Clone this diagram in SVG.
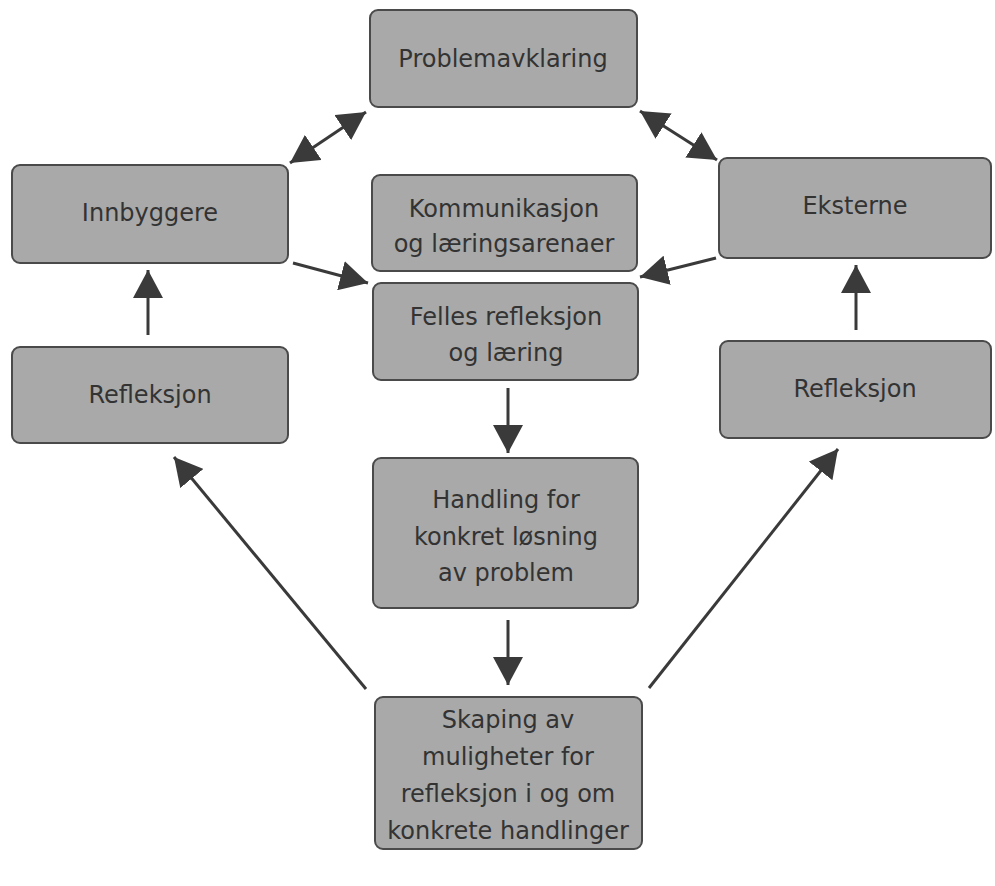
<svg xmlns="http://www.w3.org/2000/svg" width="995" height="886" viewBox="0 0 995 886">
<defs>
<style>
.box{fill:#a9a9a9;stroke:#4a4a4a;stroke-width:2}
.t{font-family:"DejaVu Sans","Liberation Sans",sans-serif;font-size:24px;fill:#333333;text-anchor:middle}
.c{stroke:#3a3a3a;stroke-width:3;fill:none}
</style>
<marker id="ah" viewBox="0 0 10 10" refX="10" refY="5" markerWidth="28" markerHeight="30" markerUnits="userSpaceOnUse" orient="auto-start-reverse" preserveAspectRatio="none">
<path d="M0,0 L10,5 L0,10 z" fill="#3a3a3a"/>
</marker>
</defs>
<rect width="995" height="886" fill="#ffffff"/>
<g id="connectors">
<line class="c" x1="290" y1="163" x2="366" y2="112" marker-start="url(#ah)" marker-end="url(#ah)"/>
<line class="c" x1="640" y1="111" x2="717" y2="160" marker-start="url(#ah)" marker-end="url(#ah)"/>
<line class="c" x1="293" y1="263" x2="368" y2="283" marker-end="url(#ah)"/>
<line class="c" x1="716" y1="258" x2="640" y2="277" marker-end="url(#ah)"/>
<line class="c" x1="508" y1="388" x2="508" y2="453" marker-end="url(#ah)"/>
<line class="c" x1="508" y1="620" x2="508" y2="685" marker-end="url(#ah)"/>
<line class="c" x1="148" y1="335" x2="148" y2="270" marker-end="url(#ah)"/>
<line class="c" x1="856" y1="330" x2="856" y2="265" marker-end="url(#ah)"/>
<line class="c" x1="366" y1="689" x2="174" y2="457" marker-end="url(#ah)"/>
<line class="c" x1="649" y1="688" x2="838" y2="449" marker-end="url(#ah)"/>
</g>
<g id="problemavklaring">
<rect class="box" x="370" y="10" width="267" height="97" rx="8"/>
<text class="t" x="503" y="67">Problemavklaring</text>
</g>
<g id="innbyggere">
<rect class="box" x="12" y="165" width="276" height="98" rx="8"/>
<text class="t" x="150" y="221">Innbyggere</text>
</g>
<g id="eksterne">
<rect class="box" x="719" y="158" width="272" height="100" rx="8"/>
<text class="t" x="855" y="214">Eksterne</text>
</g>
<g id="kommunikasjon">
<rect class="box" x="372" y="175" width="265" height="96" rx="8"/>
<text class="t" x="504" y="217">Kommunikasjon</text>
<text class="t" x="504" y="252">og læringsarenaer</text>
</g>
<g id="felles">
<rect class="box" x="373" y="283" width="265" height="97" rx="8"/>
<text class="t" x="506" y="325">Felles refleksjon</text>
<text class="t" x="506" y="361">og læring</text>
</g>
<g id="refleksjon-venstre">
<rect class="box" x="12" y="347" width="276" height="96" rx="8"/>
<text class="t" x="150" y="403">Refleksjon</text>
</g>
<g id="refleksjon-hoyre">
<rect class="box" x="720" y="341" width="271" height="97" rx="8"/>
<text class="t" x="855" y="397">Refleksjon</text>
</g>
<g id="handling">
<rect class="box" x="373" y="458" width="265" height="150" rx="8"/>
<text class="t" x="506" y="508">Handling for</text>
<text class="t" x="506" y="545">konkret løsning</text>
<text class="t" x="506" y="581">av problem</text>
</g>
<g id="skaping">
<rect class="box" x="375" y="697" width="267" height="152" rx="8"/>
<text class="t" x="508" y="728">Skaping av</text>
<text class="t" x="508" y="765">muligheter for</text>
<text class="t" x="508" y="802">refleksjon i og om</text>
<text class="t" x="508" y="839">konkrete handlinger</text>
</g>
</svg>
